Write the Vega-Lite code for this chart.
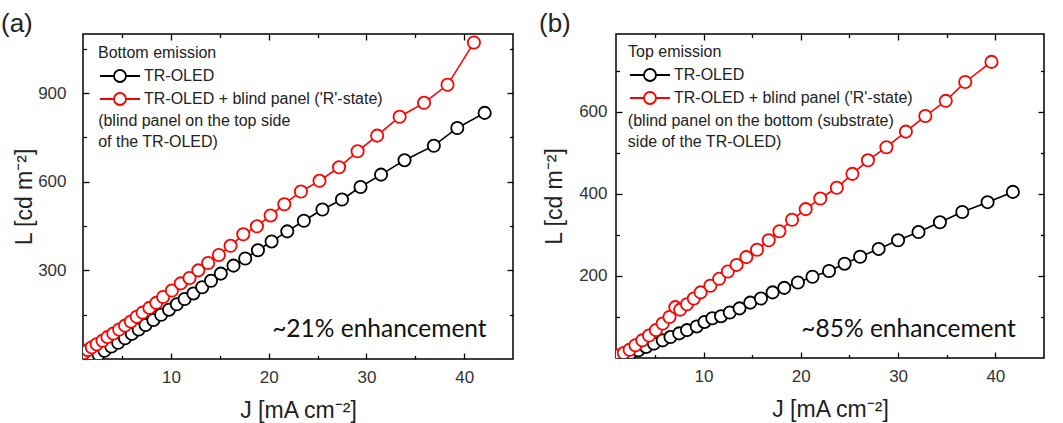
{
  "$schema": "https://vega.github.io/schema/vega-lite/v6.json",
  "padding": {"left": 0, "top": 10, "right": 5, "bottom": 0},
  "bounds": "flush",
  "spacing": 103,
  "datasets": {
    "a": [
      {"J": 2.0, "L": 5, "s": "TR-OLED"}, {"J": 2.6, "L": 15, "s": "TR-OLED"}, {"J": 3.2, "L": 28, "s": "TR-OLED"}, {"J": 3.9, "L": 42, "s": "TR-OLED"},
      {"J": 4.6, "L": 55, "s": "TR-OLED"}, {"J": 5.3, "L": 70, "s": "TR-OLED"}, {"J": 6.0, "L": 85, "s": "TR-OLED"}, {"J": 6.7, "L": 100, "s": "TR-OLED"},
      {"J": 7.4, "L": 115, "s": "TR-OLED"}, {"J": 8.2, "L": 132, "s": "TR-OLED"}, {"J": 9.0, "L": 150, "s": "TR-OLED"}, {"J": 9.8, "L": 167, "s": "TR-OLED"},
      {"J": 10.6, "L": 185, "s": "TR-OLED"}, {"J": 11.4, "L": 203, "s": "TR-OLED"}, {"J": 12.3, "L": 222, "s": "TR-OLED"}, {"J": 13.2, "L": 243, "s": "TR-OLED"},
      {"J": 14.1, "L": 265, "s": "TR-OLED"}, {"J": 15.1, "L": 289, "s": "TR-OLED"}, {"J": 16.4, "L": 316, "s": "TR-OLED"}, {"J": 17.6, "L": 340, "s": "TR-OLED"},
      {"J": 18.9, "L": 368, "s": "TR-OLED"}, {"J": 20.3, "L": 398, "s": "TR-OLED"}, {"J": 21.9, "L": 432, "s": "TR-OLED"}, {"J": 23.6, "L": 468, "s": "TR-OLED"},
      {"J": 25.5, "L": 506, "s": "TR-OLED"}, {"J": 27.5, "L": 540, "s": "TR-OLED"}, {"J": 29.4, "L": 582, "s": "TR-OLED"}, {"J": 31.5, "L": 624, "s": "TR-OLED"},
      {"J": 33.9, "L": 673, "s": "TR-OLED"}, {"J": 36.9, "L": 722, "s": "TR-OLED"}, {"J": 39.3, "L": 782, "s": "TR-OLED"}, {"J": 42.1, "L": 833, "s": "TR-OLED"},
      {"J": 1.1, "L": 20, "s": "TR-OLED + blind panel ('R'-state)"}, {"J": 1.5, "L": 30, "s": "TR-OLED + blind panel ('R'-state)"},
      {"J": 1.9, "L": 40, "s": "TR-OLED + blind panel ('R'-state)"}, {"J": 2.4, "L": 50, "s": "TR-OLED + blind panel ('R'-state)"},
      {"J": 3.0, "L": 62, "s": "TR-OLED + blind panel ('R'-state)"}, {"J": 3.5, "L": 74, "s": "TR-OLED + blind panel ('R'-state)"},
      {"J": 4.1, "L": 86, "s": "TR-OLED + blind panel ('R'-state)"}, {"J": 4.7, "L": 100, "s": "TR-OLED + blind panel ('R'-state)"},
      {"J": 5.3, "L": 113, "s": "TR-OLED + blind panel ('R'-state)"}, {"J": 5.9, "L": 127, "s": "TR-OLED + blind panel ('R'-state)"},
      {"J": 6.5, "L": 143, "s": "TR-OLED + blind panel ('R'-state)"}, {"J": 7.1, "L": 157, "s": "TR-OLED + blind panel ('R'-state)"},
      {"J": 7.8, "L": 173, "s": "TR-OLED + blind panel ('R'-state)"}, {"J": 8.5, "L": 190, "s": "TR-OLED + blind panel ('R'-state)"},
      {"J": 9.2, "L": 210, "s": "TR-OLED + blind panel ('R'-state)"}, {"J": 10.1, "L": 232, "s": "TR-OLED + blind panel ('R'-state)"},
      {"J": 11.0, "L": 256, "s": "TR-OLED + blind panel ('R'-state)"}, {"J": 11.9, "L": 274, "s": "TR-OLED + blind panel ('R'-state)"},
      {"J": 12.8, "L": 300, "s": "TR-OLED + blind panel ('R'-state)"}, {"J": 13.8, "L": 325, "s": "TR-OLED + blind panel ('R'-state)"},
      {"J": 14.9, "L": 352, "s": "TR-OLED + blind panel ('R'-state)"}, {"J": 16.1, "L": 383, "s": "TR-OLED + blind panel ('R'-state)"},
      {"J": 17.4, "L": 422, "s": "TR-OLED + blind panel ('R'-state)"}, {"J": 18.8, "L": 449, "s": "TR-OLED + blind panel ('R'-state)"},
      {"J": 20.2, "L": 486, "s": "TR-OLED + blind panel ('R'-state)"}, {"J": 21.6, "L": 524, "s": "TR-OLED + blind panel ('R'-state)"},
      {"J": 23.3, "L": 567, "s": "TR-OLED + blind panel ('R'-state)"}, {"J": 25.2, "L": 603, "s": "TR-OLED + blind panel ('R'-state)"},
      {"J": 27.2, "L": 649, "s": "TR-OLED + blind panel ('R'-state)"}, {"J": 29.1, "L": 703, "s": "TR-OLED + blind panel ('R'-state)"},
      {"J": 31.1, "L": 756, "s": "TR-OLED + blind panel ('R'-state)"}, {"J": 33.4, "L": 820, "s": "TR-OLED + blind panel ('R'-state)"},
      {"J": 35.9, "L": 867, "s": "TR-OLED + blind panel ('R'-state)"}, {"J": 38.3, "L": 928, "s": "TR-OLED + blind panel ('R'-state)"},
      {"J": 41.0, "L": 1071, "s": "TR-OLED + blind panel ('R'-state)"}
    ],
    "b": [
      {"J": 1.8, "L": 6, "s": "TR-OLED"}, {"J": 2.5, "L": 12, "s": "TR-OLED"}, {"J": 3.3, "L": 19, "s": "TR-OLED"}, {"J": 4.1, "L": 27, "s": "TR-OLED"},
      {"J": 4.9, "L": 35, "s": "TR-OLED"}, {"J": 5.8, "L": 43, "s": "TR-OLED"}, {"J": 6.6, "L": 51, "s": "TR-OLED"}, {"J": 7.5, "L": 60, "s": "TR-OLED"},
      {"J": 8.3, "L": 68, "s": "TR-OLED"}, {"J": 9.3, "L": 77, "s": "TR-OLED"}, {"J": 10.1, "L": 88, "s": "TR-OLED"}, {"J": 10.9, "L": 97, "s": "TR-OLED"},
      {"J": 11.8, "L": 102, "s": "TR-OLED"}, {"J": 12.7, "L": 111, "s": "TR-OLED"}, {"J": 13.7, "L": 121, "s": "TR-OLED"}, {"J": 14.8, "L": 135, "s": "TR-OLED"},
      {"J": 15.9, "L": 145, "s": "TR-OLED"}, {"J": 17.1, "L": 160, "s": "TR-OLED"}, {"J": 18.3, "L": 171, "s": "TR-OLED"}, {"J": 19.7, "L": 184, "s": "TR-OLED"},
      {"J": 21.2, "L": 198, "s": "TR-OLED"}, {"J": 22.9, "L": 212, "s": "TR-OLED"}, {"J": 24.5, "L": 230, "s": "TR-OLED"}, {"J": 26.1, "L": 247, "s": "TR-OLED"},
      {"J": 28.0, "L": 266, "s": "TR-OLED"}, {"J": 30.0, "L": 287, "s": "TR-OLED"}, {"J": 32.1, "L": 307, "s": "TR-OLED"}, {"J": 34.3, "L": 331, "s": "TR-OLED"},
      {"J": 36.6, "L": 356, "s": "TR-OLED"}, {"J": 39.2, "L": 380, "s": "TR-OLED"}, {"J": 41.8, "L": 405, "s": "TR-OLED"},
      {"J": 1.2, "L": 6, "s": "TR-OLED + blind panel ('R'-state)"}, {"J": 1.8, "L": 12, "s": "TR-OLED + blind panel ('R'-state)"},
      {"J": 2.4, "L": 20, "s": "TR-OLED + blind panel ('R'-state)"}, {"J": 3.0, "L": 31, "s": "TR-OLED + blind panel ('R'-state)"},
      {"J": 3.7, "L": 43, "s": "TR-OLED + blind panel ('R'-state)"}, {"J": 4.4, "L": 55, "s": "TR-OLED + blind panel ('R'-state)"},
      {"J": 5.1, "L": 68, "s": "TR-OLED + blind panel ('R'-state)"}, {"J": 5.8, "L": 84, "s": "TR-OLED + blind panel ('R'-state)"},
      {"J": 6.5, "L": 100, "s": "TR-OLED + blind panel ('R'-state)"}, {"J": 7.1, "L": 124, "s": "TR-OLED + blind panel ('R'-state)"},
      {"J": 7.6, "L": 118, "s": "TR-OLED + blind panel ('R'-state)"}, {"J": 8.3, "L": 131, "s": "TR-OLED + blind panel ('R'-state)"},
      {"J": 9.0, "L": 145, "s": "TR-OLED + blind panel ('R'-state)"}, {"J": 9.7, "L": 160, "s": "TR-OLED + blind panel ('R'-state)"},
      {"J": 10.7, "L": 176, "s": "TR-OLED + blind panel ('R'-state)"}, {"J": 11.6, "L": 193, "s": "TR-OLED + blind panel ('R'-state)"},
      {"J": 12.5, "L": 211, "s": "TR-OLED + blind panel ('R'-state)"}, {"J": 13.4, "L": 227, "s": "TR-OLED + blind panel ('R'-state)"},
      {"J": 14.4, "L": 246, "s": "TR-OLED + blind panel ('R'-state)"}, {"J": 15.5, "L": 264, "s": "TR-OLED + blind panel ('R'-state)"},
      {"J": 16.7, "L": 287, "s": "TR-OLED + blind panel ('R'-state)"}, {"J": 17.8, "L": 309, "s": "TR-OLED + blind panel ('R'-state)"},
      {"J": 19.1, "L": 337, "s": "TR-OLED + blind panel ('R'-state)"}, {"J": 20.5, "L": 363, "s": "TR-OLED + blind panel ('R'-state)"},
      {"J": 22.0, "L": 389, "s": "TR-OLED + blind panel ('R'-state)"}, {"J": 23.7, "L": 415, "s": "TR-OLED + blind panel ('R'-state)"},
      {"J": 25.3, "L": 449, "s": "TR-OLED + blind panel ('R'-state)"}, {"J": 26.9, "L": 482, "s": "TR-OLED + blind panel ('R'-state)"},
      {"J": 28.8, "L": 514, "s": "TR-OLED + blind panel ('R'-state)"}, {"J": 30.8, "L": 552, "s": "TR-OLED + blind panel ('R'-state)"},
      {"J": 32.8, "L": 590, "s": "TR-OLED + blind panel ('R'-state)"}, {"J": 34.9, "L": 627, "s": "TR-OLED + blind panel ('R'-state)"},
      {"J": 36.9, "L": 673, "s": "TR-OLED + blind panel ('R'-state)"}, {"J": 39.6, "L": 722, "s": "TR-OLED + blind panel ('R'-state)"}
    ]
  },
  "hconcat": [
    {
      "width": 430,
      "height": 325,
      "title": {"text": "(a)", "anchor": "start", "frame": "group", "dx": -82, "offset": -25, "baseline": "alphabetic", "fontSize": 26, "fontWeight": "normal", "font": "Liberation Sans", "color": "#222"},
      "layer": [
        {
          "data": {"name": "a"},
          "mark": {"type": "line", "strokeWidth": 1.6, "clip": true},
          "encoding": {
            "x": {"field": "J", "type": "quantitative", "scale": {"domain": [1, 45], "nice": false, "zero": false},
                  "axis": {"orient": "bottom", "values": [10, 20, 30, 40], "tickSize": -6, "labelPadding": 16, "title": "J [mA cm⁻²]", "titlePadding": 14}},
            "y": {"field": "L", "type": "quantitative", "scale": {"domain": [0, 1100], "nice": false},
                  "axis": {"orient": "left", "values": [300, 600, 900], "tickSize": -6, "labelPadding": 23, "title": "L [cd m⁻²]", "titlePadding": 1}},
            "color": {"field": "s", "type": "nominal",
                      "scale": {"domain": ["TR-OLED", "TR-OLED + blind panel ('R'-state)"], "range": ["#000000", "#ff0000"]},
                      "legend": {"title": "Bottom emission", "orient": "none", "legendX": 15, "legendY": 11}}
          }
        },
        {
          "data": {"name": "a"},
          "mark": {"type": "point", "shape": "circle", "filled": false, "fill": "white", "size": 150, "strokeWidth": 1.8, "opacity": 1, "clip": true},
          "encoding": {
            "x": {"field": "J", "type": "quantitative", "axis": {"orient": "top", "values": [10, 20, 30, 40], "tickSize": -6, "labels": false, "title": null}},
            "y": {"field": "L", "type": "quantitative", "axis": {"orient": "right", "values": [300, 600, 900], "tickSize": -6, "labels": false, "title": null}},
            "color": {"field": "s", "type": "nominal"}
          }
        },
        {
          "data": {"values": [{"t": "~21% enhancement"}]},
          "mark": {"type": "text", "align": "right", "baseline": "alphabetic", "font": "Lato", "fontSize": 24.5, "color": "#111"},
          "encoding": {
            "x": {"datum": 42.3, "type": "quantitative", "axis": {"orient": "bottom", "values": [5, 15, 25, 35], "tickSize": -3.5, "labels": false, "title": null}},
            "y": {"datum": 75, "type": "quantitative", "axis": {"orient": "left", "values": [150, 450, 750, 1050], "tickSize": -3.5, "labels": false, "title": null}},
            "text": {"field": "t"}
          }
        },
        {
          "data": {"values": [{"t": "(blind panel on the top side\nof the TR-OLED)"}]},
          "mark": {"type": "text", "align": "left", "baseline": "top", "lineBreak": "\n", "lineHeight": 21, "font": "Liberation Sans", "fontSize": 16, "color": "#222"},
          "encoding": {
            "x": {"datum": 2.55, "type": "quantitative", "axis": {"orient": "top", "values": [5, 15, 25, 35], "tickSize": -3.5, "labels": false, "title": null}},
            "y": {"datum": 832, "type": "quantitative", "axis": {"orient": "right", "values": [150, 450, 750, 1050], "tickSize": -3.5, "labels": false, "title": null}},
            "text": {"field": "t"}
          }
        }
      ],
      "resolve": {"axis": {"x": "independent", "y": "independent"}}
    },
    {
      "width": 428,
      "height": 324,
      "title": {"text": "(b)", "anchor": "start", "frame": "group", "dx": -77, "offset": -25, "baseline": "alphabetic", "fontSize": 26, "fontWeight": "normal", "font": "Liberation Sans", "color": "#222"},
      "layer": [
        {
          "data": {"name": "b"},
          "mark": {"type": "line", "strokeWidth": 1.6, "clip": true},
          "encoding": {
            "x": {"field": "J", "type": "quantitative", "scale": {"domain": [1, 45], "nice": false, "zero": false},
                  "axis": {"orient": "bottom", "values": [10, 20, 30, 40], "tickSize": -6, "labelPadding": 16, "title": "J [mA cm⁻²]", "titlePadding": 14}},
            "y": {"field": "L", "type": "quantitative", "scale": {"domain": [0, 790], "nice": false},
                  "axis": {"orient": "left", "values": [200, 400, 600], "tickSize": -6, "labelPadding": 15, "title": "L [cd m⁻²]", "titlePadding": 12}},
            "color": {"field": "s", "type": "nominal",
                      "scale": {"domain": ["TR-OLED", "TR-OLED + blind panel ('R'-state)"], "range": ["#000000", "#ff0000"]},
                      "legend": {"title": "Top emission", "orient": "none", "legendX": 12, "legendY": 10}}
          }
        },
        {
          "data": {"name": "b"},
          "mark": {"type": "point", "shape": "circle", "filled": false, "fill": "white", "size": 150, "strokeWidth": 1.8, "opacity": 1, "clip": true},
          "encoding": {
            "x": {"field": "J", "type": "quantitative", "axis": {"orient": "top", "values": [10, 20, 30, 40], "tickSize": -6, "labels": false, "title": null}},
            "y": {"field": "L", "type": "quantitative", "axis": {"orient": "right", "values": [200, 400, 600], "tickSize": -6, "labels": false, "title": null}},
            "color": {"field": "s", "type": "nominal"}
          }
        },
        {
          "data": {"values": [{"t": "~85% enhancement"}]},
          "mark": {"type": "text", "align": "right", "baseline": "alphabetic", "font": "Lato", "fontSize": 24.5, "color": "#111"},
          "encoding": {
            "x": {"datum": 42.1, "type": "quantitative", "axis": {"orient": "bottom", "values": [5, 15, 25, 35], "tickSize": -3.5, "labels": false, "title": null}},
            "y": {"datum": 50, "type": "quantitative", "axis": {"orient": "left", "values": [100, 300, 500, 700], "tickSize": -3.5, "labels": false, "title": null}},
            "text": {"field": "t"}
          }
        },
        {
          "data": {"values": [{"t": "(blind panel on the bottom (substrate)\nside of the TR-OLED)"}]},
          "mark": {"type": "text", "align": "left", "baseline": "top", "lineBreak": "\n", "lineHeight": 21, "font": "Liberation Sans", "fontSize": 16, "color": "#222"},
          "encoding": {
            "x": {"datum": 2.22, "type": "quantitative", "axis": {"orient": "top", "values": [5, 15, 25, 35], "tickSize": -3.5, "labels": false, "title": null}},
            "y": {"datum": 597, "type": "quantitative", "axis": {"orient": "right", "values": [100, 300, 500, 700], "tickSize": -3.5, "labels": false, "title": null}},
            "text": {"field": "t"}
          }
        }
      ],
      "resolve": {"axis": {"x": "independent", "y": "independent"}}
    }
  ],
  "resolve": {"scale": {"color": "independent"}},
  "config": {
    "view": {"stroke": "#000000", "strokeWidth": 1.5},
    "axis": {"grid": false, "domain": false, "tickColor": "#000000", "tickWidth": 1.3,
             "labelFont": "Liberation Sans", "labelFontSize": 17, "labelColor": "#333333",
             "titleFont": "Liberation Sans", "titleFontWeight": "normal", "titleFontSize": 23, "titleColor": "#222222"},
    "legend": {
      "titleFont": "Liberation Sans", "titleFontSize": 16, "titleFontWeight": "normal", "titleColor": "#222222", "titlePadding": 7,
      "labelFont": "Liberation Sans", "labelFontSize": 16, "labelColor": "#222222", "labelOffset": 30, "labelLimit": 400,
      "symbolType": "M -1 0 L 1.33 0 M 3.33 0 L 5.67 0 M 3.33 0 A 1 1 0 1 0 1.33 0 A 1 1 0 1 0 3.33 0",
      "symbolSize": 144, "symbolStrokeWidth": 1.8, "symbolFillColor": "white",
      "rowPadding": 3, "padding": 0, "offset": 0
    }
  }
}
